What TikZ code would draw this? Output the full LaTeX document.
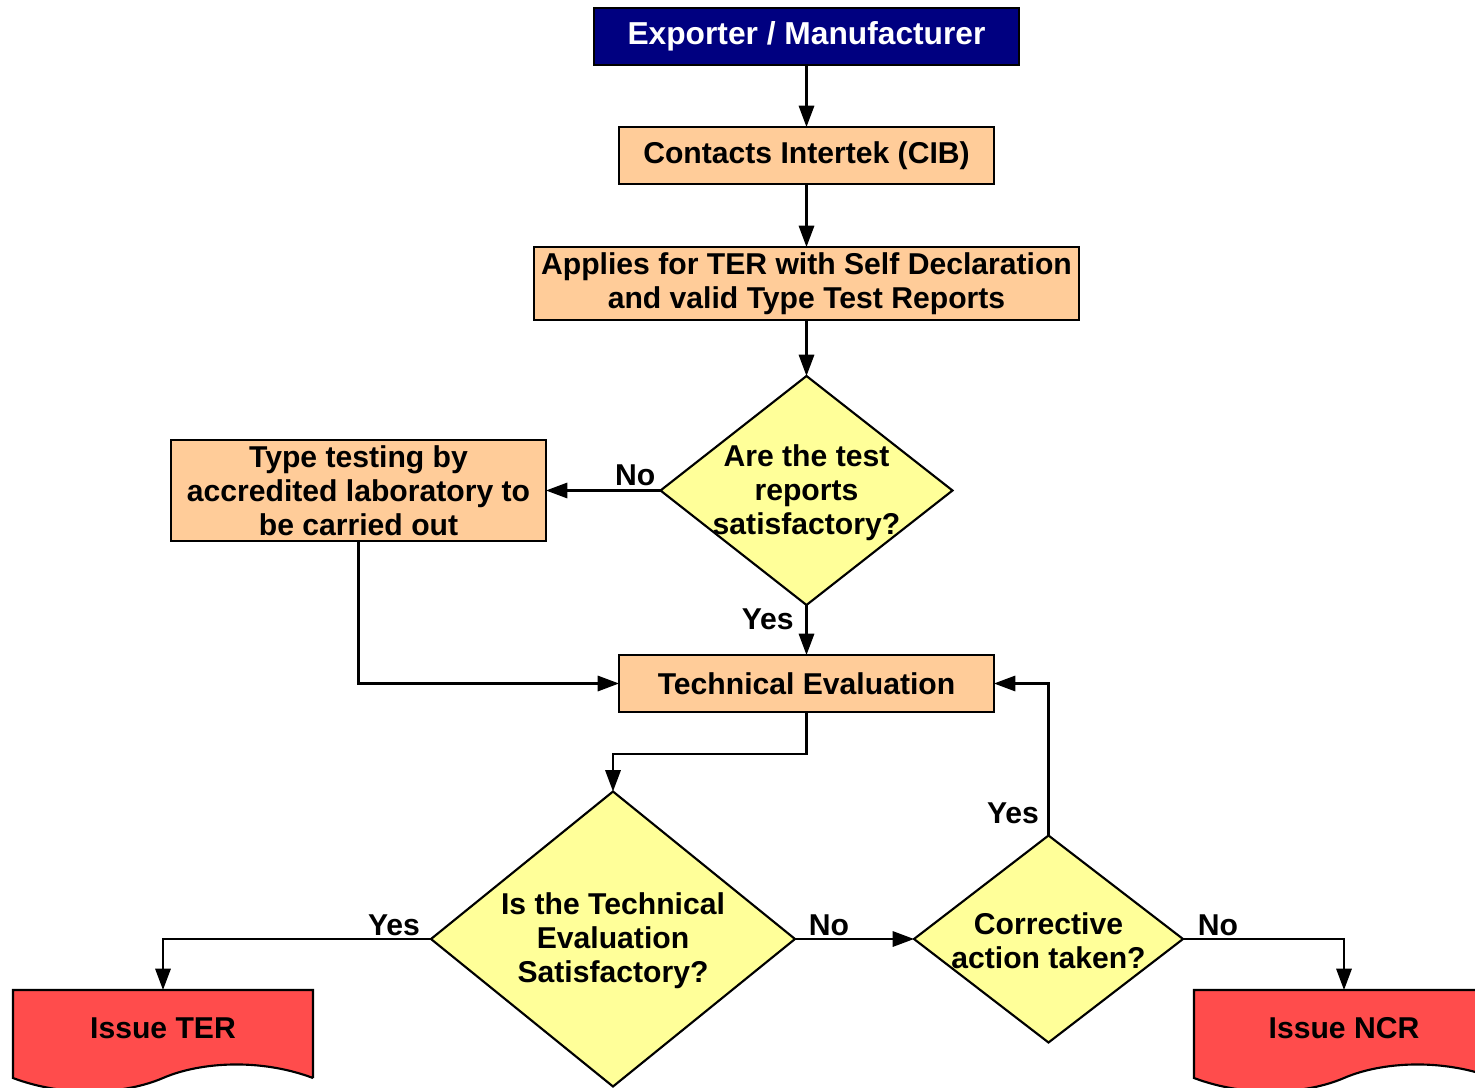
\documentclass[tikz,border=0pt]{standalone}
\usepackage{fontspec}
\setmainfont{Liberation Sans}
\usetikzlibrary{arrows.meta,shapes.geometric}
\definecolor{navyfill}{RGB}{0,0,128}
\definecolor{peach}{RGB}{255,204,153}
\definecolor{paleyellow}{RGB}{255,255,153}
\definecolor{docred}{RGB}{255,76,76}
\tikzset{
  txt/.style={font=\fontsize{22.6}{25.5}\selectfont\bfseries, align=center},
  stepbox/.style={draw, line width=1.6pt, fill=peach, rectangle, inner sep=0pt, outer sep=0pt, txt},
  decision/.style={draw, line width=1.6pt, fill=paleyellow, diamond, inner sep=0pt, outer sep=0pt},
  docnode/.style={rectangle, inner sep=0pt, outer sep=0pt, minimum width=225pt, minimum height=66pt},
  docshape/.style={draw, line width=1.6pt, fill=docred, line join=miter},
  conn/.style={line width=1.6pt, -{Triangle[length=16pt,width=11.5pt]}},
  lbl/.style={txt, inner sep=0pt},
}
\begin{document}
\begin{tikzpicture}[x=0.75pt,y=-0.75pt]
\useasboundingbox[fill=white] (0,0) rectangle (1475,1088);

% boxes
\node[draw, line width=1.6pt, fill=navyfill, inner sep=0pt, outer sep=0pt,
      minimum width=318.75pt, minimum height=42.75pt, text=white,
      font=\fontsize{23.8}{27}\selectfont\bfseries] (exp) at (806.5,36.5) {Exporter / Manufacturer};
\node[stepbox, minimum width=281.25pt, minimum height=42.75pt] (cib) at (806.5,155.5) {Contacts Intertek (CIB)};
\node[stepbox, minimum width=408.75pt, minimum height=54.75pt] (app) at (806.5,283.5) {Applies for TER with Self Declaration\\and valid Type Test Reports};
\node[stepbox, minimum width=281.25pt, minimum height=75.75pt] (tt) at (358.5,490.5) {Type testing by\\accredited laboratory to\\be carried out};
\node[stepbox, minimum width=281.25pt, minimum height=42.75pt] (te) at (806.5,683.5) {Technical Evaluation};

% decisions
\node[decision, minimum width=219pt, minimum height=171.75pt,
      label={[txt, yshift=-1.5pt]center:Are the test\\reports\\satisfactory?}] (d1) at (806.5,490.5) {};
\node[decision, minimum width=273pt, minimum height=221.25pt,
      label={[txt, yshift=-1.5pt]center:Is the Technical\\Evaluation\\Satisfactory?}] (d2) at (613,939) {};
\node[decision, minimum width=201.75pt, minimum height=155.25pt,
      label={[txt, yshift=-1.5pt]center:Corrective\\action taken?}] (d3) at (1048.5,939) {};

% documents
\node[docnode, anchor=north] (ter) at (163,990) {};
\draw[docshape] (ter.south east) -- (ter.north east) -- (ter.north west) -- (ter.south west)
  .. controls +(53,20) and +(-37,16) .. ++(150,0)
  .. controls +(37,-16) and +(-53,-20) .. (ter.south east);
\node[txt] (tertext) at ([yshift=4.5pt]ter.center) {Issue TER};
\node[docnode, anchor=north] (ncr) at (1344,990) {};
\draw[docshape] (ncr.south east) -- (ncr.north east) -- (ncr.north west) -- (ncr.south west)
  .. controls +(53,20) and +(-37,16) .. ++(150,0)
  .. controls +(37,-16) and +(-53,-20) .. (ncr.south east);
\node[txt] (ncrtext) at ([yshift=4.5pt]ncr.center) {Issue NCR};

% connectors
\draw[conn] (exp.south) -- (cib.north);
\draw[conn] (cib.south) -- (app.north);
\draw[conn] (app.south) -- (d1.north);
\draw[conn] (d1.west) -- node[lbl, pos=0.22, above=3pt] (lno1) {No} (tt.east);
\draw[conn] (d1.south) -- (te.north);
\node[lbl, left=9pt] (lyes1) at (806,619) {Yes};
\draw[conn] (tt.south) |- (te.west);
\draw[conn] (te.south) -- ++(0,42) -| (d2.north);
\draw[conn] (d2.east) -- (d3.west);
\draw[conn] (d2.west) -| (ter.north);
\draw[conn] (d3.north) |- (te.east);
\draw[conn] (d3.east) -| (ncr.north);

% labels
\node[lbl] (lyes2) at (394,925) {Yes};
\node[lbl] (lno2) at (829,925) {No};
\node[lbl] (lyes3) at (1013,813) {Yes};
\node[lbl] (lno3) at (1218,925) {No};
\end{tikzpicture}
\end{document}
